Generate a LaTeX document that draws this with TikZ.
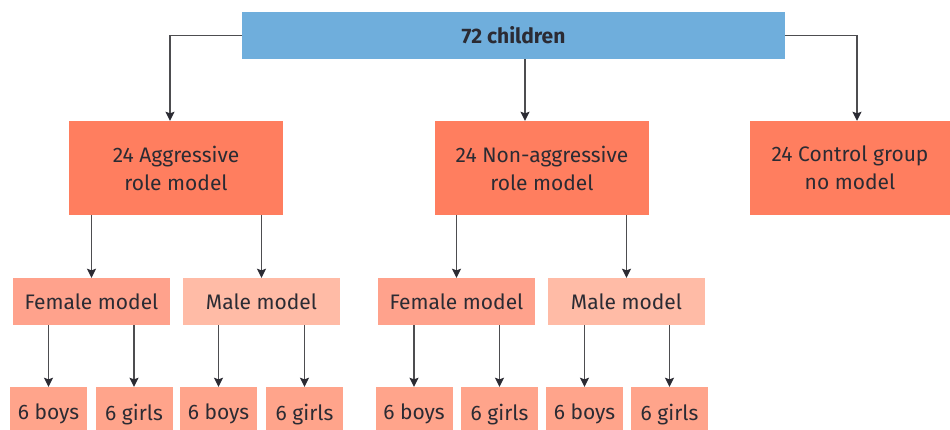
\documentclass[tikz,border=0pt]{standalone}
\usepackage{fontspec}
\setmainfont{Fira Sans}
\usetikzlibrary{arrows.meta}
\definecolor{topblue}{HTML}{6FAEDC}
\definecolor{lvlone}{HTML}{FF7E5F}
\definecolor{female}{HTML}{FFA28C}
\definecolor{male}{HTML}{FFBBA6}
\definecolor{leaf}{HTML}{FFA48B}
\definecolor{ink}{HTML}{2B2B33}
\definecolor{arrowgray}{HTML}{4D4D50}
\tikzset{
  box/.style={rectangle, inner sep=0pt, text=ink, align=center, font=\fontsize{21}{28}\selectfont},
  topbox/.style={box, fill=topblue, minimum width=543pt, minimum height=47pt, font=\fontsize{21}{28}\selectfont\bfseries},
  groupbox/.style={box, fill=lvlone, minimum width=214pt, minimum height=94pt},
  femalebox/.style={box, fill=female, minimum width=157pt, minimum height=47pt},
  malebox/.style={box, fill=male, minimum width=157pt, minimum height=47pt},
  leafbox/.style={box, fill=leaf, minimum width=77pt, minimum height=50pt, text depth=0pt},
  arr/.style={draw=arrowgray, line width=1.5pt, -{Stealth[length=9pt,width=9pt,inset=1.5pt,color=ink]}},
}
\begin{document}
\begin{tikzpicture}[x=1pt,y=-1pt]
\useasboundingbox (0,0) rectangle (950,430);
\clip (0,0) rectangle (950,430);
\node[topbox] (top) at (513.5,35.5) {72 children};
\node[groupbox] (agg) at (176,168) {24 Aggressive\\role model};
\node[groupbox] (non) at (542,168) {24 Non-aggressive\\role model};
\node[groupbox, minimum width=200pt] (ctl) at (850,168) {24 Control group\\no model};
\node[femalebox] (f1) at (91.5,301.5) {Female model};
\node[malebox] (m1) at (261.5,301.5) {Male model};
\node[femalebox] (f2) at (456.5,301.5) {Female model};
\node[malebox] (m2) at (626.5,301.5) {Male model};
\node[leafbox] (b1) at (48.5,412) {6 boys};
\node[leafbox] (b2) at (134,412) {6 girls};
\node[leafbox] (b3) at (218.5,412) {6 boys};
\node[leafbox] (b4) at (304.5,412) {6 girls};
\node[leafbox] (b5) at (414,412) {6 boys};
\node[leafbox] (b6) at (499.5,412) {6 girls};
\node[leafbox] (b7) at (584.5,412) {6 boys};
\node[leafbox] (b8) at (669.5,412) {6 girls};
\coordinate (aggin) at ([xshift=-6pt]agg.north);
\coordinate (nonin) at ([xshift=-17pt]non.north);
\coordinate (ctlin) at ([xshift=7pt]ctl.north);
\draw[arr] (top.west) -| (aggin);
\draw[arr] (top.south -| nonin) -- (nonin);
\draw[arr] (top.east) -| (ctlin);
\draw[arr] (agg.south -| f1.north) -- (f1.north);
\draw[arr] (agg.south -| m1.north) -- (m1.north);
\draw[arr] (non.south -| f2.north) -- (f2.north);
\draw[arr] (non.south -| m2.north) -- (m2.north);
\draw[arr] (f1.south -| b1.north) -- (b1.north);
\draw[arr] (f1.south -| b2.north) -- (b2.north);
\draw[arr] (m1.south -| b3.north) -- (b3.north);
\draw[arr] (m1.south -| b4.north) -- (b4.north);
\draw[arr] (f2.south -| b5.north) -- (b5.north);
\draw[arr] (f2.south -| b6.north) -- (b6.north);
\draw[arr] (m2.south -| b7.north) -- (b7.north);
\draw[arr] (m2.south -| b8.north) -- (b8.north);
\end{tikzpicture}
\end{document}
